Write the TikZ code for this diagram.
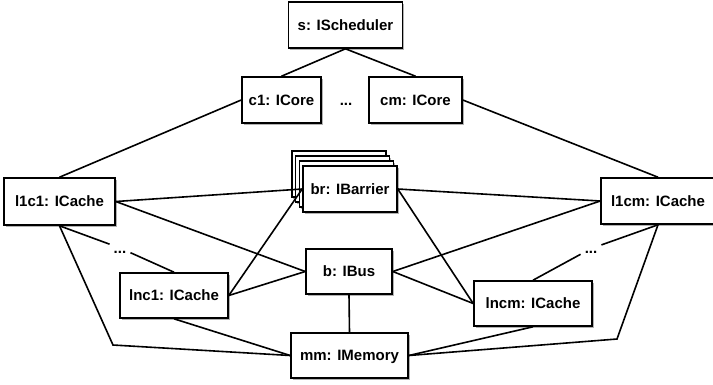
\documentclass[tikz,border=0pt]{standalone}
\usepackage{fontspec}
\setmainfont{Liberation Sans}
\usetikzlibrary{shadows}
\begin{document}
\begin{tikzpicture}[x=1pt,y=-1pt,
  every node/.style={font=\fontsize{15}{18}\selectfont\bfseries, text height=10.7pt, text depth=0pt},
  box/.style={draw=black, line width=1.6pt, fill=white, inner sep=0pt,
    drop shadow={shadow xshift=1.5pt, shadow yshift=-2pt, opacity=0.3, fill=black}},
  backbox/.style={box, line width=1.2pt},
  dots/.style={inner sep=4pt},
  conn/.style={line width=1.6pt}]
\useasboundingbox (0,0) rectangle (713,384);
% stacked barrier boxes behind
\node[backbox, minimum width=94pt, minimum height=46pt] (brb3) at (338.9,174) {};
\node[backbox, minimum width=94pt, minimum height=46pt] (brb2) at (342.6,179) {};
\node[backbox, minimum width=94pt, minimum height=46pt] (brb1) at (346.3,184) {};
\node[box, minimum width=94pt, minimum height=46pt] (br) at (350,189) {br: IBarrier};
% nodes
\node[box, minimum width=114pt, minimum height=46pt] (s) at (345.5,25) {s: IScheduler};
\node[box, minimum width=79pt, minimum height=46pt] (c1) at (281.5,100) {c1: ICore};
\node[box, minimum width=93pt, minimum height=46pt] (cm) at (415.5,100) {cm: ICore};
\node (cd) at (346,100) {...};
\node[box, minimum width=111pt, minimum height=47pt] (l1c1) at (59.5,201.5) {l1c1: ICache};
\node[box, minimum width=114pt, minimum height=46pt] (l1cm) at (658,201) {l1cm: ICache};
\node[box, minimum width=86pt, minimum height=45pt] (b) at (349,271.5) {b: IBus};
\node[box, minimum width=108pt, minimum height=45pt] (lnc1) at (174,295.5) {lnc1: ICache};
\node[box, minimum width=118pt, minimum height=45pt] (lncm) at (533,303.5) {lncm: ICache};
\node[box, minimum width=117pt, minimum height=45pt] (mm) at (349.5,355.5) {mm: IMemory};
\node[dots] (d1) at (120,248) {...};
\node[dots] (d2) at (591,248.6) {...};
\coordinate (pl) at (113,345);
\coordinate (pr) at (617,339);
% connectors
\draw[conn] (s.south) -- (c1.north);
\draw[conn] (s.south) -- (cm.north);
\draw[conn] (c1.west) -- (l1c1.north);
\draw[conn] (cm.east) -- (l1cm.north);
\draw[conn] (l1c1.east) -- (br.west);
\draw[conn] (l1c1.east) -- (b.west);
\draw[conn] (l1c1.south) -- (d1) -- (lnc1.north);
\draw[conn] (l1c1.south) -- (pl) -- (mm.west);
\draw[conn] (lnc1.east) -- (br.west);
\draw[conn] (lnc1.east) -- (b.west);
\draw[conn] (lnc1.south) -- (mm.west);
\draw[conn] (br.east) -- (l1cm.west);
\draw[conn] (br.east) -- (lncm.west);
\draw[conn] (b.east) -- (l1cm.west);
\draw[conn] (b.east) -- (lncm.west);
\draw[conn] (b.south) -- (mm.north);
\draw[conn] (mm.east) -- (lncm.south);
\draw[conn] (mm.east) -- (pr) -- (l1cm.south);
\draw[conn] (lncm.north) -- (d2) -- (l1cm.south);
\end{tikzpicture}
\end{document}
